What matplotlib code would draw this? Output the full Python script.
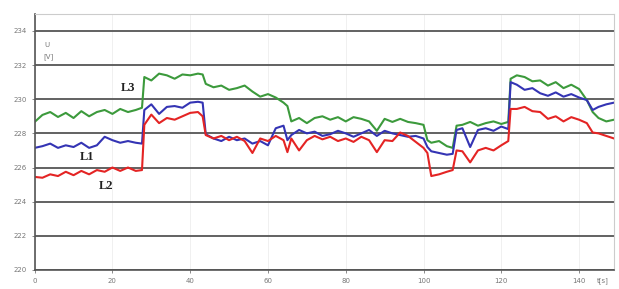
import matplotlib.pyplot as plt

# time axis [s], with extra points at the step changes
t = [0, 2, 4, 6, 8, 10, 12, 14, 16, 18, 20, 22, 24, 26, 27.6, 28.2,
     30, 32, 34, 36, 38, 40, 42, 43.2, 44, 46, 48, 50, 52, 54, 56, 58,
     60, 62, 64, 65, 66, 68, 70, 72, 74, 76, 78, 80, 82, 84, 86, 88,
     90, 92, 94, 96, 98, 100, 101, 102, 104, 106, 107.5, 108.5, 110, 112,
     114, 116, 118, 120, 121.8, 122.4, 124, 126, 128, 130, 132, 134, 136,
     138, 140, 142, 143.5, 145, 147, 149]

# phase voltages [V]
L1 = [227.15, 227.25, 227.4, 227.15, 227.3, 227.2, 227.45, 227.15, 227.3, 227.8,
      227.6, 227.45, 227.55, 227.45, 227.4, 229.37, 229.7, 229.14, 229.55, 229.6,
      229.5, 229.8, 229.85, 229.8, 227.95, 227.7, 227.55, 227.8, 227.6, 227.7,
      227.4, 227.55, 227.3, 228.3, 228.45, 227.6, 227.9, 228.2, 228.0, 228.1,
      227.85, 227.95, 228.15, 228.0, 227.8, 228.0, 228.2, 227.85, 228.15, 228.0,
      227.9, 227.8, 227.85, 227.7, 227.2, 226.95, 226.85, 226.75, 226.8, 228.2,
      228.3, 227.2, 228.2, 228.3, 228.15, 228.4, 228.25, 231.0, 230.85, 230.55,
      230.65, 230.35, 230.2, 230.4, 230.15, 230.3, 230.1, 229.95, 229.37, 229.55,
      229.7, 229.8]

L2 = [225.45, 225.4, 225.6, 225.5, 225.75, 225.55, 225.8, 225.6, 225.85, 225.75,
      226.0, 225.8, 226.0, 225.8, 225.85, 228.5, 229.1, 228.6, 228.9, 228.8,
      229.0, 229.2, 229.25, 229.0, 227.9, 227.7, 227.85, 227.6, 227.8, 227.55,
      226.85, 227.7, 227.55, 227.85, 227.6, 226.9, 227.7, 227.0, 227.6, 227.85,
      227.65, 227.8, 227.55, 227.7, 227.5, 227.8, 227.6, 226.9, 227.6, 227.55,
      228.05, 227.85, 227.5, 227.15, 226.85, 225.5, 225.6, 225.75, 225.85, 227.0,
      226.95, 226.3, 227.0, 227.15, 227.0, 227.3, 227.55, 229.43, 229.43, 229.55,
      229.3, 229.25, 228.85, 229.0, 228.7, 228.95, 228.8, 228.6, 228.05, 228.0,
      227.85, 227.7]

L3 = [228.67, 229.08, 229.25, 228.96, 229.2, 228.9, 229.3, 229.0, 229.25, 229.37,
      229.14, 229.43, 229.25, 229.37, 229.5, 231.3, 231.1, 231.5, 231.4, 231.2,
      231.45, 231.4, 231.5, 231.45, 230.9, 230.7, 230.8, 230.55, 230.65, 230.8,
      230.45, 230.15, 230.3, 230.1, 229.8, 229.6, 228.7, 228.9, 228.6, 228.9,
      229.0, 228.8, 228.95, 228.7, 228.95, 228.85, 228.7, 228.15, 228.85, 228.67,
      228.85, 228.67, 228.6, 228.5, 227.6, 227.45, 227.55, 227.25, 227.15, 228.45,
      228.5, 228.67, 228.45, 228.6, 228.7, 228.55, 228.67, 231.2, 231.4, 231.3,
      231.05, 231.1, 230.8, 231.0, 230.65, 230.85, 230.6, 229.95, 229.25, 228.9,
      228.7, 228.8]

x_ticks = [0, 20, 40, 60, 80, 100, 120, 140]
y_ticks = [220, 222, 224, 226, 228, 230, 232, 234]

fig = plt.figure(figsize=(6.19, 2.89), dpi=100)
ax = fig.add_axes([0.056, 0.066, 0.936, 0.886])

ax.plot(t, L3, color="#3c9a3c", lw=1.5)
ax.plot(t, L1, color="#3434b4", lw=1.5)
ax.plot(t, L2, color="#e42424", lw=1.5)

ax.set_xlim(0, 149)
ax.set_ylim(220, 235)
ax.set_xticks(x_ticks)
ax.set_yticks(y_ticks)
ax.tick_params(labelsize=5, colors="#777777", length=2, width=0.6)
ax.grid(axis="y", color="#555555", lw=1.3)
ax.grid(axis="x", color="#eeeeee", lw=0.6)
ax.set_axisbelow(True)

for side in ["top", "right"]:
    ax.spines[side].set_color("#cccccc")
for side in ["left", "bottom"]:
    ax.spines[side].set_color("#555555")
    ax.spines[side].set_linewidth(1.2)

# labels on the curves
lab = dict(fontsize=9, fontweight="bold", family="Liberation Serif", color="#222222")
ax.text(22.2, 230.65, "L3", ha="left", va="center", **lab)
ax.text(11.5, 226.6, "L1", ha="left", va="center", **lab)
ax.text(16.5, 224.9, "L2", ha="left", va="center", **lab)

ax.text(2.5, 233.2, "U", fontsize=5, color="#777777", va="center")
ax.text(2.3, 232.5, "[V]", fontsize=5, color="#777777", va="center")
fig.text(0.965, 0.025, "t[s]", fontsize=5, color="#777777")

fig.savefig("out.png", dpi=100)
